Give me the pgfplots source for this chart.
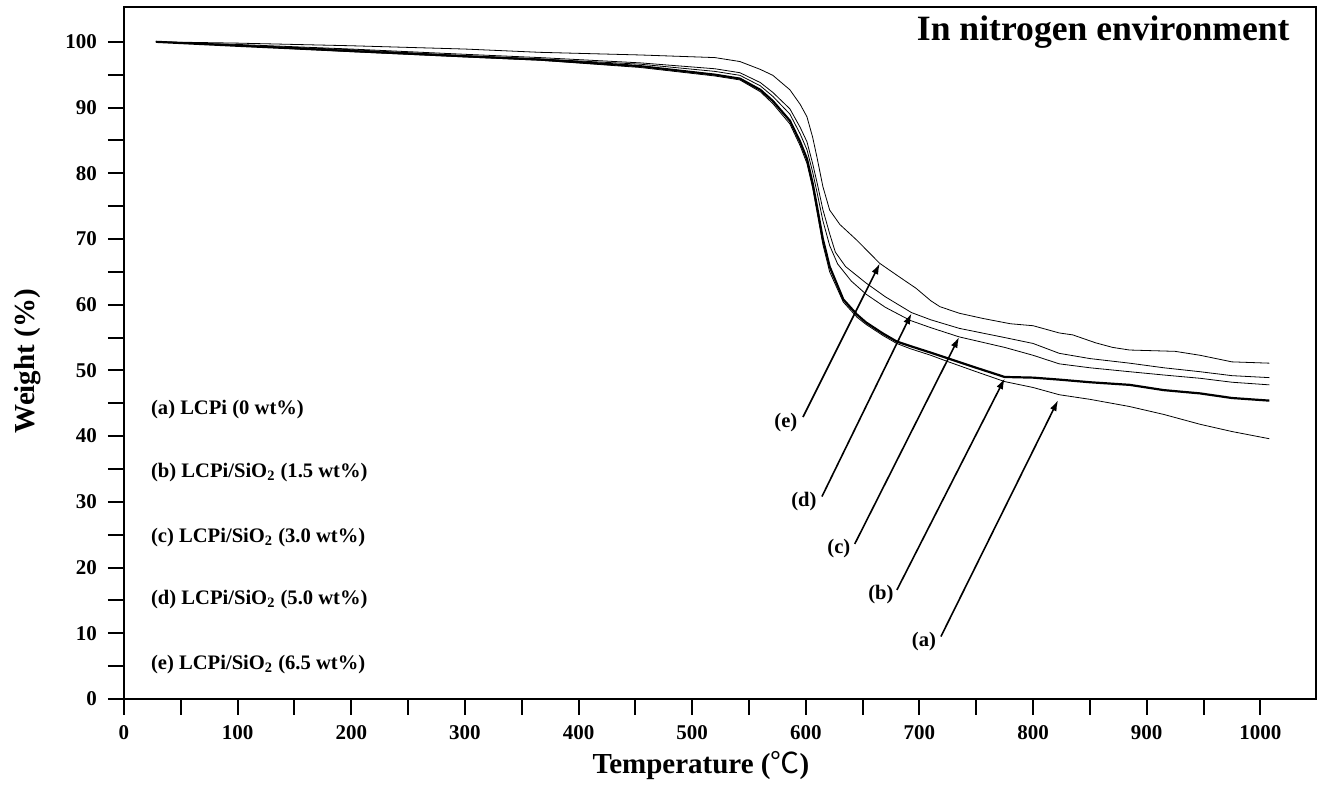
\documentclass[border=0pt]{standalone}
\usepackage{fontspec}
\setmainfont{Liberation Serif}
\newfontfamily\cjk{Noto Sans CJK SC}
\usepackage{pgfplots}
\usepackage{pgfplotstable}
\pgfplotsset{compat=1.18}
\usetikzlibrary{arrows.meta}

\pgfplotstableread{
T w
28 100
100 99.4
200 98.5
300 97.7
366 97.2
454 96.1
520 94.8
542 94.2
560 92.4
571 90.6
586 87.5
595 84.2
601 81.5
606 77.8
610 74.0
615 69.2
621 65.0
633 60.4
645 58.1
653 57.0
668 55.3
680 54.1
692 53.3
710 52.3
724 51.4
750 49.8
775 48.3
800 47.4
823 46.3
850 45.6
885 44.5
915 43.3
947 41.8
975 40.7
1008 39.6
}\dataA

\pgfplotstableread{
T w
28 100
100 99.4
200 98.6
300 97.8
366 97.3
454 96.3
520 95.0
542 94.4
560 92.7
571 91.0
586 88.0
595 84.8
601 82.2
606 78.5
610 74.8
615 70.0
621 65.8
633 60.8
645 58.5
653 57.3
668 55.6
680 54.4
692 53.7
710 52.7
724 51.9
750 50.4
775 49.0
800 48.9
823 48.6
850 48.2
885 47.8
915 47.0
947 46.5
975 45.8
1008 45.4
}\dataB

\pgfplotstableread{
T w
28 100
100 99.5
200 98.8
300 97.9
366 97.4
454 96.6
520 95.5
542 94.9
560 93.3
571 91.7
586 89.0
595 86.0
601 83.6
606 80.2
610 77.0
615 72.8
621 69.0
628 66.2
640 63.6
653 61.6
670 59.6
692 57.6
710 56.5
735 55.1
755 54.3
775 53.5
800 52.3
823 51.0
850 50.4
885 49.8
915 49.3
947 48.8
975 48.2
1008 47.8
}\dataC

\pgfplotstableread{
T w
28 100
100 99.6
200 98.9
300 98.1
366 97.6
454 96.8
520 95.9
542 95.3
560 93.8
571 92.3
586 89.8
595 87.0
601 84.8
606 81.5
610 78.5
615 74.5
621 70.8
626 68.0
635 65.8
653 63.3
670 61.2
693 58.8
710 57.7
735 56.4
755 55.7
775 55.0
800 54.1
823 52.6
850 51.8
885 51.1
915 50.4
947 49.8
975 49.2
1008 48.9
}\dataD

\pgfplotstableread{
T w
28 100
100 99.8
200 99.4
300 98.9
366 98.4
454 98.0
520 97.6
542 97.0
560 95.8
571 94.9
586 92.7
595 90.5
601 88.6
606 85.5
610 82.3
615 78.0
621 74.4
630 72.2
645 69.8
665 66.3
680 64.5
697 62.5
710 60.6
718 59.7
735 58.7
756 57.9
780 57.1
800 56.8
823 55.7
835 55.4
855 54.2
870 53.5
885 53.1
925 52.9
947 52.3
975 51.3
1008 51.1
}\dataE

\begin{document}
\begin{tikzpicture}
\begin{axis}[
  scale only axis, width=596pt, height=346pt,
  xmin=0, xmax=1049, ymin=0, ymax=105.3,
  clip=false,
  axis line style={line width=1pt},
  xtick={0,100,...,1000}, minor xtick={50,150,...,950},
  ytick={0,10,...,100}, minor ytick={5,15,...,95},
  tick align=outside, xtick pos=bottom, ytick pos=left,
  major tick length=8pt, minor tick length=8pt,
  tick style={black, line width=1pt},
  /pgf/number format/assume math mode=true,
  /pgf/number format/1000 sep={},
  ticklabel style={font=\fontsize{10.5}{12}\selectfont\bfseries},
  yticklabel style={xshift=-2pt},
  xticklabel style={yshift=-1.5pt},
  cycle list={{black, line width=1.1pt, no markers, line join=round}},
]
\addplot table[x=T,y=w] {\dataA};
\addplot table[x=T,y=w] {\dataB};
\addplot table[x=T,y=w] {\dataC};
\addplot table[x=T,y=w] {\dataD};
\addplot table[x=T,y=w] {\dataE};

\coordinate (SW) at (rel axis cs:0,0);
\coordinate (NE) at (rel axis cs:1,1);

\node[rotate=90, anchor=base, inner sep=0, font=\fontsize{14.5}{16}\selectfont\bfseries]
  at (axis description cs:-0.0747,0.488) {Weight (\%)};
\node[anchor=base, inner sep=0, font=\fontsize{14.5}{16}\selectfont\bfseries]
  at (axis description cs:0.484,-0.108) {Temperature ({\cjk\mdseries ℃})};

\node[anchor=base east, inner sep=0, font=\fontsize{17.8}{20}\selectfont\bfseries]
  at (axis cs:1026,100.26) {In nitrogen environment};

\begin{scope}[every node/.style={anchor=west, inner sep=0, font=\fontsize{10.3}{12}\selectfont\bfseries}]
\node at (axis cs:23.5,44.0) {(a) LCPi (0 wt\%)};
\node at (axis cs:23.5,34.4) {(b) LCPi/SiO\textsubscript{2} (1.5 wt\%)};
\node at (axis cs:23.5,24.6) {(c) LCPi/SiO\textsubscript{2} (3.0 wt\%)};
\node at (axis cs:23.5,15.1) {(d) LCPi/SiO\textsubscript{2} (5.0 wt\%)};
\node at (axis cs:23.5,5.2) {(e) LCPi/SiO\textsubscript{2} (6.5 wt\%)};
\end{scope}

\begin{scope}[line width=0.8pt, -{Latex[length=5.5pt,width=3.5pt]}]
\draw (axis cs:597.5,42.9) -- (axis cs:665.2,66.3);
\draw (axis cs:614.2,30.8) -- (axis cs:693.1,58.7);
\draw (axis cs:643.1,23.6) -- (axis cs:735.0,55.1);
\draw (axis cs:680.2,16.6) -- (axis cs:775.1,48.8);
\draw (axis cs:718.9,9.5) -- (axis cs:822.1,45.5);
\end{scope}

\begin{scope}[every node/.style={inner sep=0, font=\fontsize{10.3}{12}\selectfont\bfseries}]
\node at (axis cs:582.5,42.1) {(e)};
\node at (axis cs:598.3,30.0) {(d)};
\node at (axis cs:629.1,22.9) {(c)};
\node at (axis cs:666.1,15.9) {(b)};
\node at (axis cs:704.0,8.8) {(a)};
\end{scope}
\end{axis}
\pgfresetboundingbox
\path[use as bounding box] ([xshift=-62pt,yshift=-48pt]SW) rectangle ([xshift=1pt,yshift=3.5pt]NE);
\end{tikzpicture}
\end{document}
